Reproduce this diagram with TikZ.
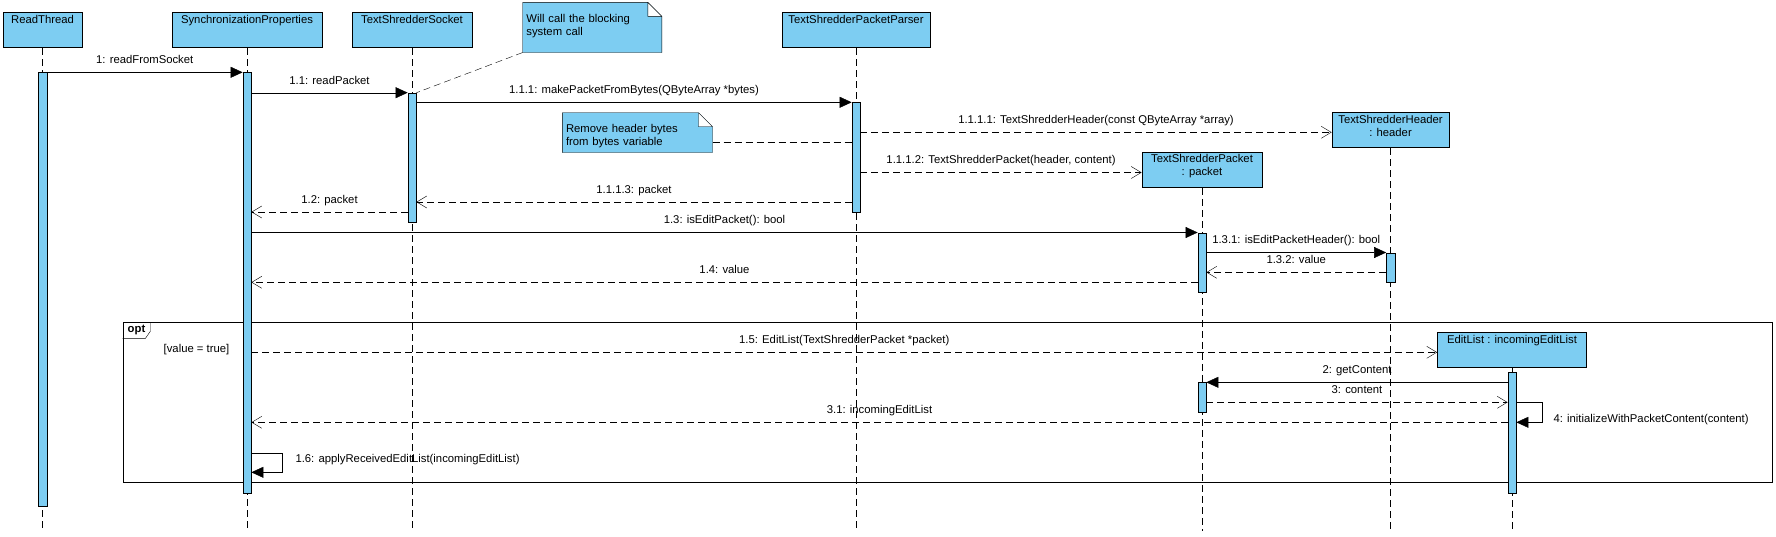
\documentclass[tikz,border=0pt]{standalone}
\usepackage{fontspec}
\setmainfont{Liberation Sans}
\usetikzlibrary{arrows.meta,positioning}
\definecolor{seqblue}{RGB}{125,205,242}
\pgfdeclarelayer{back}
\pgfsetlayers{back,main}

\begin{document}
\begin{tikzpicture}[x=1pt,y=-1pt,line width=0.8pt,
	font=\fontsize{11.3}{13}\selectfont,
	lifebox/.style={draw, fill=seqblue, anchor=north, inner sep=2pt, minimum height=35pt, text height=9pt, text depth=22pt},
	lifebox2/.style={draw, fill=seqblue, anchor=north, inner sep=2pt, align=center, minimum height=35pt, text depth=9pt},
	act/.style={draw, fill=seqblue, anchor=north, minimum width=8.4pt, inner sep=0pt},
	life/.style={dash pattern=on 7pt off 4pt},
	call/.style={-{Triangle[length=12pt,width=11pt]}},
	ret/.style={dash pattern=on 7pt off 4pt, -{Straight Barb[length=10pt,width=12pt]}},
	lbl/.style={midway, above=4pt, inner sep=2pt, text height=8pt, text depth=2.5pt},
	note/.style={anchor=north west, align=left, inner xsep=3.3pt, inner ysep=4.5pt}]
	\useasboundingbox (0,0) rectangle (1776,536);
	\coordinate (bot) at (0,531);

	% objects
	\node[lifebox, minimum width=79pt] (rt) at (42.5,12.3) {ReadThread};
	\node[lifebox, minimum width=150pt] (sp) at (247,12.3) {SynchronizationProperties};
	\node[lifebox, minimum width=120pt] (so) at (412,12.3) {TextShredderSocket};
	\node[lifebox, minimum width=148pt] (pp) at (856,12.3) {TextShredderPacketParser};
	\node[lifebox2, minimum width=117pt] (hd) at (1390.5,112.3) {TextShredderHeader\\: header};
	\node[lifebox2, minimum width=120pt] (pk) at (1202,152) {TextShredderPacket\\: packet};
	\node[lifebox, minimum width=149pt] (el) at (1512,332.3) {EditList : incomingEditList};
	\foreach \o in {rt,sp,so,pp,hd,pk,el}
		\draw[life] (\o.south) -- (\o.south |- bot);

	% notes
	\node[note, text width=131.7pt, minimum height=49.4pt, text depth=18pt] (n1) at (522.7,2.3) {Will call the blocking\\system call};
	\node[note, text width=142.8pt, minimum height=39pt, text depth=8pt] (n2) at (562.3,112.7) {Remove header bytes\\from bytes variable};
	\begin{pgfonlayer}{back}
		\foreach \n in {n1,n2}
			\draw[fill=seqblue] (\n.south west) -- (\n.north west) -- ([xshift=-14pt]\n.north east) -- ([yshift=-14pt]\n.north east) -- (\n.south east) -- cycle
				([xshift=-14pt]\n.north east) |- ([yshift=-14pt]\n.north east);
	\end{pgfonlayer}

	% opt fragment
	\node[draw, anchor=north west, minimum width=1649.5pt, minimum height=160pt] (opt) at (122.5,322.3) {};
	\draw ([yshift=-16pt]opt.north west) -- ++(23,0) -- ++(5,-7.3) -- ++(0,-8.7);
	\node[font=\fontsize{11.3}{13}\selectfont\bfseries] (optlbl) at (136.5,330.3) {opt};
	\node (guard) at (196.5,350) {[value = true]};

	% activations
	\node[act, minimum height=433.4pt] (rta) at (rt |- 0,72.3) {};
	\node[act, minimum height=421pt] (spa) at (sp |- 0,72.3) {};
	\node[act, minimum height=129.6pt] (soa) at (so |- 0,92.7) {};
	\node[act, minimum height=109.7pt] (ppa) at (pp |- 0,102.3) {};
	\node[act, minimum height=59.8pt] (pka) at (pk |- 0,232.5) {};
	\node[act, minimum height=29.8pt] (hda) at (hd |- 0,252.5) {};
	\node[act, minimum height=30pt] (pkb) at (pk |- 0,382.3) {};
	\node[act, minimum height=121pt] (ela) at (el |- 0,372.3) {};

	\draw[life] (n1.south west) -- (soa.north east);
	\draw[life] (n2.east |- 0,142.3) -- (ppa.west |- 0,142.3);

	% messages
	\draw[call] (rta.north east) -- node[lbl] {1: readFromSocket} (spa.north west);
	\draw[call] (spa.east |- soa.north) -- node[lbl] {1.1: readPacket} (soa.north west);
	\draw[call] (soa.east |- ppa.north) -- node[lbl] {1.1.1: makePacketFromBytes(QByteArray *bytes)} (ppa.north west);
	\draw[ret] (ppa.east |- 0,132.3) -- node[lbl] {1.1.1.1: TextShredderHeader(const QByteArray *array)} (hd.west |- 0,132.3);
	\draw[ret] (ppa.east |- 0,172.5) -- node[lbl] {1.1.1.2: TextShredderPacket(header, content)} (pk.west |- 0,172.5);
	\draw[ret] (ppa.west |- 0,202) -- node[lbl] {1.1.1.3: packet} (soa.east |- 0,202);
	\draw[ret] (soa.west |- 0,212) -- node[lbl] {1.2: packet} (spa.east |- 0,212);
	\draw[call] (spa.east |- pka.north) -- node[lbl] {1.3: isEditPacket(): bool} (pka.north west);
	\draw[call] (pka.east |- hda.north) -- node[lbl] {1.3.1: isEditPacketHeader(): bool} (hda.north west);
	\draw[ret] (hda.west |- 0,272.3) -- node[lbl] {1.3.2: value} (pka.east |- 0,272.3);
	\draw[ret] (pka.west |- 0,282.3) -- node[lbl] {1.4: value} (spa.east |- 0,282.3);
	\draw[ret] (spa.east |- 0,352.3) -- node[lbl] {1.5: EditList(TextShredderPacket *packet)} (el.west |- 0,352.3);
	\draw[call] (ela.west |- pkb.north) -- node[lbl] {2: getContent} (pkb.north east);
	\draw[ret] (pkb.east |- 0,402.3) -- node[lbl] {3: content} (ela.west |- 0,402.3);
	\draw[call] (ela.east |- 0,402.3) -- ++(26,0) |- (ela.east |- 0,422.3);
	\node[anchor=west] (m4) at (1550,419.3) {4: initializeWithPacketContent(content)};
	\draw[ret] (ela.west |- 0,422.3) -- node[lbl] {3.1: incomingEditList} (spa.east |- 0,422.3);
	\draw[call] (spa.east |- 0,452.7) -- ++(31,0) |- (spa.east |- 0,472.3);
	\node[anchor=west] (m16) at (292,459.3) {1.6: applyReceivedEditList(incomingEditList)};
\end{tikzpicture}
\end{document}
